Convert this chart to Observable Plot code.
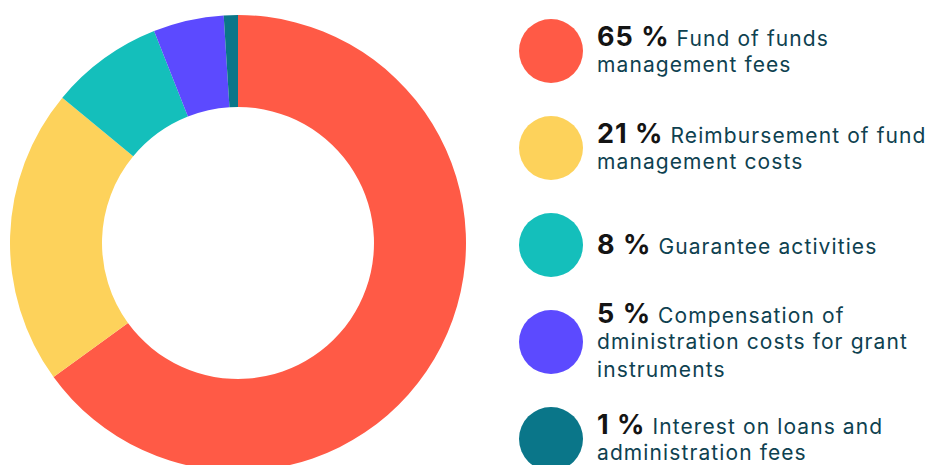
<!DOCTYPE html>
<html>
<head>
<meta charset="utf-8">
<script src="https://cdn.jsdelivr.net/npm/d3@7"></script>
<script src="https://cdn.jsdelivr.net/npm/@observablehq/plot@0.6"></script>
<style>
  html, body { margin: 0; padding: 0; background: #fff; }
  #wrap { position: relative; width: 932px; height: 465px; overflow: hidden; display: flex; font-family: Inter, "Noto Sans", sans-serif; }
  #chart { width: 476px; height: 465px; flex: none; }
  #legend { flex: none; width: 456px; padding-top: 2px; }
  .item { height: 97px; display: flex; align-items: center; }
  .sw { width: 64px; height: 64px; border-radius: 50%; margin-left: 43px; margin-right: 14px; flex: none; }
  .txt { font-size: 21px; color: #0e4150; white-space: pre; letter-spacing: 1.1px; }
  .line { height: 28px; line-height: 28px; }
  .pct { font-weight: 700; font-size: 27px; color: #141414; letter-spacing: 1px; }
</style>
</head>
<body>
<div id="wrap"><div id="chart"></div><div id="legend"></div></div>
<script>
const categories = [
  "Fund of funds\nmanagement fees",
  "Reimbursement of fund\nmanagement costs",
  "Guarantee activities",
  "Compensation of\ndministration costs for grant\ninstruments",
  "Interest on loans and\nadministration fees"
];
const shares = [65, 21, 8, 5, 1];
const colors = ["#ff5a46", "#fdd25b", "#14bfbb", "#5c4aff", "#0a7689"];

const data = categories.map((c, i) => ({category: c, share: shares[i]}));
const color = Plot.scale({color: {type: "ordinal", domain: categories, range: colors}});

const W = 476, H = 465;
const donut = Plot.plot({
  width: W,
  height: H,
  margin: 0,
  x: {domain: [-1, 1], range: [10, 466], axis: null},
  y: {domain: [-1, 1], range: [15, 471], axis: null},
  marks: [
    (index, scales) => {
      const cx = scales.x(0), cy = scales.y(0);
      const R = scales.x(1) - cx;
      const r = R * 136 / 228;
      const pie = d3.pie().sort(null).value(d => d.share)(data);
      const arc = d3.arc().innerRadius(r).outerRadius(R);
      const g = d3.create("svg:g").attr("transform", `translate(${cx},${cy})`);
      g.selectAll("path").data(pie).join("path")
        .attr("d", arc)
        .attr("fill", d => color.apply(d.data.category));
      return g.node();
    },
    Plot.dot([-1, 1], {x: d => d, y: d => d, r: 0, stroke: "none"})
  ]
});
document.getElementById("chart").appendChild(donut);

const legend = d3.select("#legend");
data.forEach(d => {
  const item = legend.append("div").attr("class", "item");
  item.append("div").attr("class", "sw").style("background", color.apply(d.category));
  const t = item.append("div").attr("class", "txt");
  const lines = d.category.split("\n");
  lines.forEach((ln, i) => {
    const row = t.append("div").attr("class", "line");
    if (i === 0) {
      row.append("span").attr("class", "pct").text(`${d.share} %`);
      row.append("span").text(" " + ln);
    } else {
      row.append("span").text(ln);
    }
  });
});
</script>
</body>
</html>
